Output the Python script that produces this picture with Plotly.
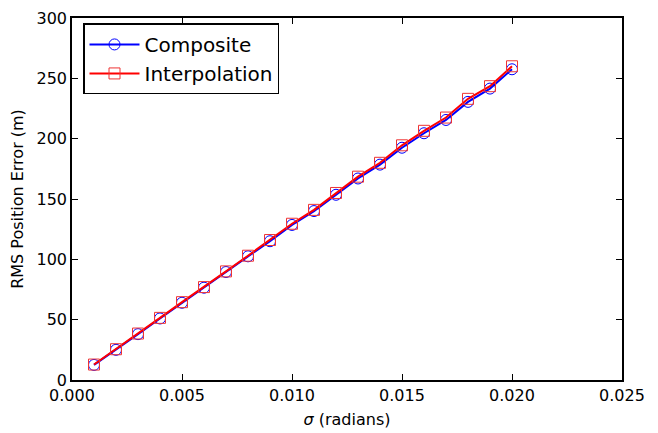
import plotly.graph_objects as go

sigma = [0.001, 0.002, 0.003, 0.004, 0.005, 0.006, 0.007, 0.008, 0.009, 0.010,
         0.011, 0.012, 0.013, 0.014, 0.015, 0.016, 0.017, 0.018, 0.019, 0.020]
composite = [12.5, 25.0, 38.0, 51.0, 64.0, 76.5, 89.5, 102.5, 115.0, 128.5,
             140.0, 153.5, 167.0, 178.5, 192.5, 204.5, 215.5, 230.5, 241.5, 257.5]
interpolation = [12.8, 25.5, 38.5, 51.5, 64.5, 77.0, 90.0, 103.0, 116.0, 129.5,
                 141.0, 155.0, 168.5, 180.0, 194.5, 206.5, 217.5, 233.0, 243.5, 260.0]

fig = go.Figure()
fig.add_trace(go.Scatter(
    x=sigma, y=composite, name="Composite", mode="lines+markers",
    line=dict(color="#0000ff", width=2),
    marker=dict(symbol="circle-open", size=11, color="#0000ff", line=dict(width=1)),
))
fig.add_trace(go.Scatter(
    x=sigma, y=interpolation, name="Interpolation", mode="lines+markers",
    line=dict(color="#ff0000", width=2),
    marker=dict(symbol="square-open", size=11, color="#ee3333", line=dict(width=1)),
))

axis_common = dict(
    showline=True, linecolor="black", linewidth=1.5, mirror="ticks",
    ticks="inside", ticklen=6, tickwidth=1, tickcolor="black",
    showgrid=False, zeroline=False, automargin=False,
    ticklabeloverflow="allow",
    tickfont=dict(family="DejaVu Sans", size=16, color="black"),
)

fig.update_layout(
    width=658, height=433,
    margin=dict(l=64, r=44, t=10, b=61),
    paper_bgcolor="white", plot_bgcolor="white",
    font=dict(family="DejaVu Sans", color="black"),
    xaxis=dict(range=[0, 0.025], dtick=0.005, tickformat=".3f",
               title=dict(text="<i>σ</i> (radians)", font=dict(size=16), standoff=10),
               **axis_common),
    yaxis=dict(range=[0, 300], dtick=50,
               title=dict(text="RMS Position Error (m)", font=dict(size=16), standoff=10),
               **axis_common),
    legend=dict(x=0.02, y=0.985, xanchor="left", yanchor="top",
                bordercolor="black", borderwidth=1.5, bgcolor="white",
                font=dict(size=20, family="DejaVu Sans"), itemwidth=50,
                tracegroupgap=0),
    showlegend=True,
)

fig.write_html("out.html")
